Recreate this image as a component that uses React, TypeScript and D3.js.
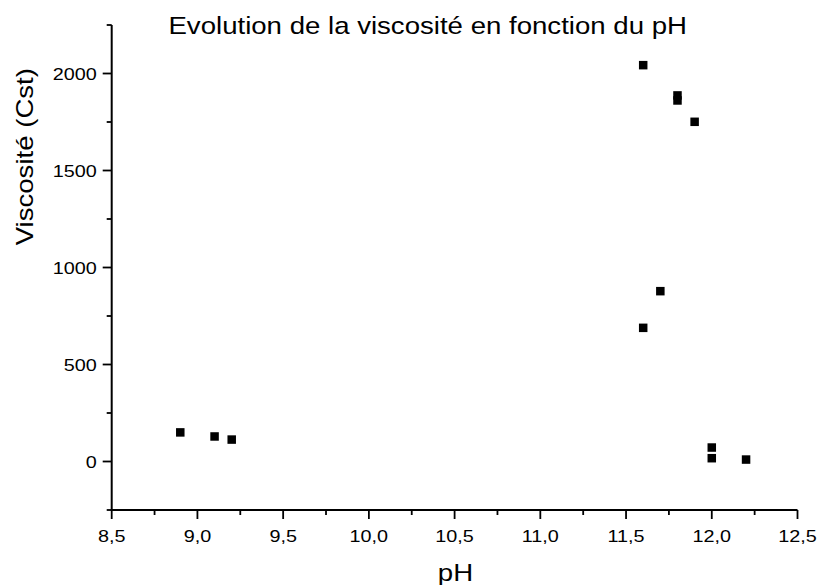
import React from "react";
import * as d3 from "d3";

const phValues = [8.9, 9.1, 9.2, 11.6, 11.8, 11.8, 11.9, 11.7, 11.6, 12.0, 12.0, 12.2];
const viscosityValues = [150, 129, 113, 2043, 1887, 1861, 1751, 878, 689, 72, 17, 10];
const xTickValues = [8.5, 9.0, 9.5, 10.0, 10.5, 11.0, 11.5, 12.0, 12.5];
const xMinorTickValues = [8.75, 9.25, 9.75, 10.25, 10.75, 11.25, 11.75, 12.25];
const yTickValues = [0, 500, 1000, 1500, 2000];
const yMinorTickValues = [-250, 250, 750, 1250, 1750, 2250];
const titleText = "Evolution de la viscosité en fonction du pH";
const xLabel = "pH";
const yLabel = "Viscosité (Cst)";

const W = 819;
const H = 585;
const FONT = "'Liberation Sans', Arial, Helvetica, sans-serif";
const SX = 1.2;

export default function App() {
  const x = d3.scaleLinear().domain([8.5, 12.5]).range([111.7, 797.5]);
  const y = d3.scaleLinear().domain([-250, 2250]).range([510, 25]);
  const fmtX = (v: number) => d3.format(".1f")(v).replace(".", ",");
  const fmtY = d3.format("d");
  const x0 = x.range()[0];
  const y0 = y.range()[0];
  const ms = 8.5;

  return (
    <svg
      width={W}
      height={H}
      style={{ position: "fixed", left: 0, top: 0, background: "#fff" }}
      fontFamily={FONT}
    >
      <rect width={W} height={H} fill="#fff" />
      {/* title */}
      <text
        transform={`translate(${427.7},${34}) scale(1.15,1)`}
        textAnchor="middle"
        fontSize={24}
        fill="#000"
      >
        {titleText}
      </text>

      {/* y axis */}
      <line x1={x0} x2={x0} y1={y.range()[1]} y2={y0} stroke="#000" strokeWidth={2} />
      {yTickValues.map((v) => (
        <g key={"yt" + v}>
          <line x1={x0 - 9} x2={x0} y1={y(v)} y2={y(v)} stroke="#000" strokeWidth={1.8} />
          <text
            transform={`translate(${x0 - 15},${y(v) + 6}) scale(${SX},1)`}
            textAnchor="end"
            fontSize={16.5}
            fill="#000"
          >
            {fmtY(v)}
          </text>
        </g>
      ))}
      {yMinorTickValues.map((v) => (
        <line key={"ym" + v} x1={x0 - 5} x2={x0} y1={y(v)} y2={y(v)} stroke="#000" strokeWidth={1.8} />
      ))}

      {/* x axis */}
      <line x1={x0 - 1} x2={x.range()[1]} y1={y0} y2={y0} stroke="#000" strokeWidth={2} />
      {xTickValues.map((v) => (
        <g key={"xt" + v}>
          <line x1={x(v)} x2={x(v)} y1={y0} y2={y0 + 9} stroke="#000" strokeWidth={1.8} />
          <text
            transform={`translate(${x(v)},${542.3}) scale(${SX},1)`}
            textAnchor="middle"
            fontSize={16.5}
            fill="#000"
          >
            {fmtX(v)}
          </text>
        </g>
      ))}
      {xMinorTickValues.map((v) => (
        <line key={"xm" + v} x1={x(v)} x2={x(v)} y1={y0} y2={y0 + 5} stroke="#000" strokeWidth={1.8} />
      ))}

      {/* axis labels */}
      <text
        transform={`translate(${455.5},${580.5}) scale(${SX},1)`}
        textAnchor="middle"
        fontSize={23}
        fill="#000"
      >
        {xLabel}
      </text>
      <text
        transform={`translate(${32.7},${156.7}) rotate(-90) scale(${SX},1)`}
        textAnchor="middle"
        fontSize={23}
        fill="#000"
      >
        {yLabel}
      </text>

      {/* points */}
      {phValues.map((p, i) => (
        <rect
          key={"pt" + i}
          x={x(p) - ms / 2}
          y={y(viscosityValues[i]) - ms / 2}
          width={ms}
          height={ms}
          fill="#000"
        />
      ))}
    </svg>
  );
}
